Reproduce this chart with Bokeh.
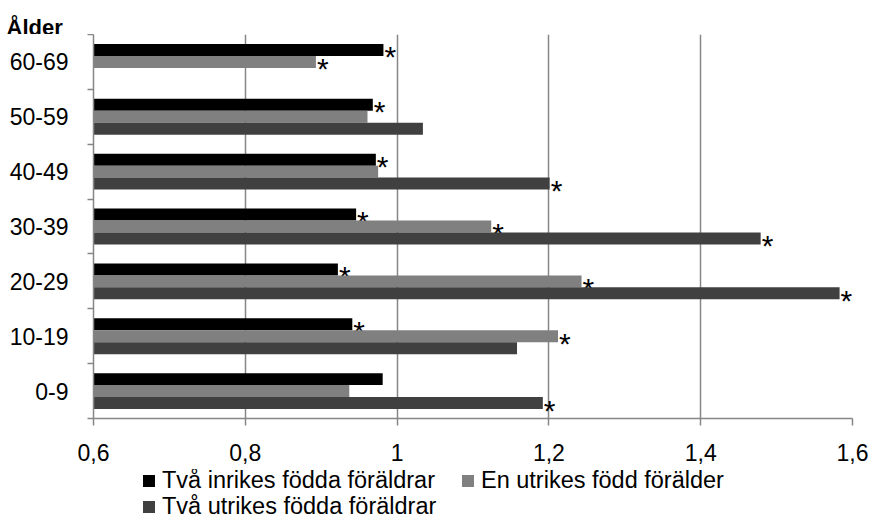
from bokeh.plotting import figure
from bokeh.layouts import column
from bokeh.models import Range1d, FixedTicker, Legend, LegendItem, Label, ColumnDataSource
from bokeh.core.properties import value
from bokeh.embed import file_html
from bokeh.resources import INLINE

# ---- data ----
ages = ["0-9", "10-19", "20-29", "30-39", "40-49", "50-59", "60-69"]
series_names = ["Två inrikes födda föräldrar", "En utrikes född förälder", "Två utrikes födda föräldrar"]
two_native = [0.981, 0.941, 0.922, 0.946, 0.972, 0.968, 0.982]
one_foreign = [0.937, 1.212, 1.243, 1.124, 0.975, 0.961, 0.893]
two_foreign = [1.192, 1.158, 1.583, 1.479, 1.201, 1.034, None]
two_native_sig = [False, True, True, True, True, True, True]
one_foreign_sig = [False, True, True, True, False, False, True]
two_foreign_sig = [True, False, True, True, True, False, False]
x_ticks = [0.6, 0.8, 1.0, 1.2, 1.4, 1.6]
x_tick_labels = ["0,6", "0,8", "1", "1,2", "1,4", "1,6"]
y_title = "Ålder"
colors = ["#000000", "#808080", "#404040"]

FONT = "Liberation Sans"
W = 872
TOP_H = 34
bar_h = 0.218
offsets = [bar_h, 0.0, -bar_h]

# ---- title strip ----
pt = figure(width=W, height=TOP_H, output_backend="svg", toolbar_location=None,
            x_range=Range1d(0, W), y_range=Range1d(0, TOP_H),
            x_axis_location=None, y_axis_location=None, min_border=0)
pt.frame_align = False
pt.grid.visible = False
pt.outline_line_color = None
pt.add_layout(Label(x=6, y=7, text=y_title, text_font=FONT, text_font_size="22px",
                    text_font_style="bold", text_color="black",
                    text_baseline="middle", text_align="left"))

# ---- main chart ----
p = figure(frame_width=759, frame_height=384, output_backend="svg", toolbar_location=None,
           x_range=Range1d(0.6, 1.6), y_range=Range1d(0, len(ages)),
           min_border_left=93, min_border_right=20, min_border_top=0, min_border_bottom=51)
p.frame_align = False
p.outline_line_color = None

series = [two_native, one_foreign, two_foreign]
sigs = [two_native_sig, one_foreign_sig, two_foreign_sig]
for vals, sig, off, col in zip(series, sigs, offsets, colors):
    ys = [i + 0.5 + off for i, v in enumerate(vals) if v is not None]
    xs = [v for v in vals if v is not None]
    src = ColumnDataSource(dict(y=ys, right=xs))
    p.hbar(y="y", left=0.6, right="right", height=bar_h, source=src,
           fill_color=col, line_color=None)
    sx = [v for v, s in zip(vals, sig) if v is not None and s]
    sy = [i + 0.5 + off for i, (v, s) in enumerate(zip(vals, sig)) if v is not None and s]
    p.text(x=sx, y=sy, text=["*"] * len(sx), x_offset=1, y_offset=7,
           text_font=value(FONT), text_font_size="30px", text_color="black",
           text_align="left", text_baseline="middle")

gray = "#868686"
p.xaxis.ticker = FixedTicker(ticks=x_ticks)
p.xaxis.major_label_overrides = {t: l for t, l in zip(x_ticks, x_tick_labels)}
p.xaxis.major_tick_in = 0
p.xaxis.major_tick_out = 7
p.xaxis.minor_tick_line_color = None
p.xaxis.axis_line_color = gray
p.xaxis.axis_line_width = 1.5
p.xaxis.major_tick_line_color = gray
p.xaxis.major_tick_line_width = 1.5
p.xaxis.major_label_text_font = FONT
p.xaxis.major_label_text_font_size = "23px"
p.xaxis.major_label_text_color = "black"
p.xaxis.major_label_standoff = 18

centers = [i + 0.5 for i in range(len(ages))]
bounds = [float(i) for i in range(len(ages) + 1)]
p.yaxis.ticker = FixedTicker(ticks=centers, minor_ticks=bounds)
p.yaxis.major_label_overrides = {c: a for c, a in zip(centers, ages)}
p.yaxis.major_tick_line_color = None
p.yaxis.major_tick_in = 0
p.yaxis.major_tick_out = 6
p.yaxis.minor_tick_in = 0
p.yaxis.minor_tick_out = 6
p.yaxis.minor_tick_line_color = gray
p.yaxis.minor_tick_line_width = 1.5
p.yaxis.axis_line_color = gray
p.yaxis.axis_line_width = 1.5
p.yaxis.major_label_text_font = FONT
p.yaxis.major_label_text_font_size = "23px"
p.yaxis.major_label_text_color = "black"
p.yaxis.major_label_standoff = 19

p.xgrid.ticker = FixedTicker(ticks=x_ticks)
p.xgrid.grid_line_color = gray
p.xgrid.grid_line_width = 1.5
p.ygrid.grid_line_color = None

# ---- legend strip ----
LEG_H = 516 - TOP_H - (384 + 51)
pl = figure(width=W, height=LEG_H, output_backend="svg", toolbar_location=None,
            x_range=Range1d(0, 1), y_range=Range1d(0, 1),
            x_axis_location=None, y_axis_location=None, min_border=0)
pl.frame_align = False
pl.grid.visible = False
pl.outline_line_color = None
# swatch renderers for the legend (a single bar placed outside the visible range)
leg_r = [pl.hbar(y=[-5], left=[-5], right=[-4], height=1, fill_color=c, line_color=None)
         for c in colors]

def mk_legend(items, loc):
    return Legend(items=items, orientation="horizontal", location=loc,
                  label_text_font=FONT, label_text_font_size="23.5px", label_text_color="black",
                  glyph_width=15, glyph_height=15, label_standoff=6, spacing=25,
                  padding=0, margin=0, border_line_color=None, background_fill_alpha=0)

pl.add_layout(mk_legend([LegendItem(label=series_names[0], renderers=[leg_r[0]]),
                         LegendItem(label=series_names[1], renderers=[leg_r[1]])], (141, 22)))
pl.add_layout(mk_legend([LegendItem(label=series_names[2], renderers=[leg_r[2]])], (141, -4)))

layout = column(pt, p, pl, spacing=0)
open("out.html", "w").write(file_html(layout, INLINE))
